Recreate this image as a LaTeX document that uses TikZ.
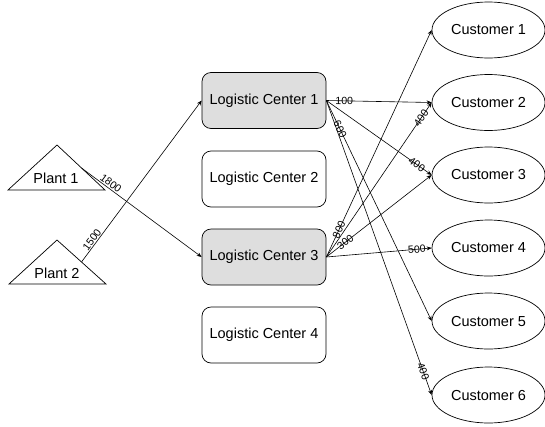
\documentclass[tikz,border=0pt]{standalone}
\usepackage{fontspec}
\setmainfont{Liberation Sans}
\usetikzlibrary{arrows.meta,shapes.geometric}
\definecolor{lcgray}{RGB}{222,222,222}
\begin{document}
\begin{tikzpicture}[x=1pt,y=-1pt,
  txt/.style={font=\fontsize{14.5}{17}\selectfont},
  lc/.style={draw, txt, rounded corners=9pt, minimum width=124pt, minimum height=56pt, inner sep=0pt, line width=0.7pt},
  lcfill/.style={lc, fill=lcgray},
  cust/.style={draw, txt, ellipse, minimum width=113pt, minimum height=56pt, inner sep=0pt, line width=0.7pt},
  flow/.style={draw, line width=0.6pt, -{Stealth[length=5pt,width=4pt]}},
  lbl/.style={font=\fontsize{10.5}{12}\selectfont, sloped, inner sep=1pt}]
\useasboundingbox (0,0) rectangle (545,426);

% plants
\draw[line width=0.7pt] (57,145) -- (105,190) -- (8,190) -- cycle;
\node[txt] (plant1) at (56,178) {Plant 1};
\coordinate (p1out) at (81.5,168);
\draw[line width=0.7pt] (57,240) -- (106,284) -- (9,284) -- cycle;
\node[txt] (plant2) at (57,273) {Plant 2};
\coordinate (p2out) at (81.5,262);

% logistic centers
\node[lcfill] (lc1) at (264,100.5) {Logistic Center 1};
\node[lc] (lc2) at (264,179) {Logistic Center 2};
\node[lcfill] (lc3) at (264,257) {Logistic Center 3};
\node[lc] (lc4) at (264,335) {Logistic Center 4};

% customers
\node[cust] (c1) at (488.5,30) {Customer 1};
\node[cust] (c2) at (488.5,102.5) {Customer 2};
\node[cust] (c3) at (488.5,175) {Customer 3};
\node[cust] (c4) at (488.5,248) {Customer 4};
\node[cust] (c5) at (488.5,321) {Customer 5};
\node[cust] (c6) at (488.5,395) {Customer 6};

% plant flows
\draw[flow] (p1out) -- node[lbl, above, pos=0.22] {1800} (lc3.west);
\draw[flow] (p2out) -- node[lbl, above, pos=0.12] {1500} (lc1.west);

% LC1 flows
\draw[flow] (lc1.east) -- node[lbl, pos=0.17] {100} (c2.west);
\draw[flow] (lc1.east) -- node[lbl, pos=0.86] {400} (c3.west);
\draw[flow] (lc1.east) -- node[lbl, pos=0.13] {600} (c5.west);
\draw[flow] (lc1.east) -- node[lbl, pos=0.92] {400} (c6.west);

% LC3 flows
\draw[flow] (lc3.east) -- node[lbl, pos=0.12] {800} (c1.west);
\draw[flow] (lc3.east) -- node[lbl, pos=0.9] {400} (c2.west);
\draw[flow] (lc3.east) -- node[lbl, pos=0.18] {300} (c3.west);
\draw[flow] (lc3.east) -- node[lbl, pos=0.86] {500} (c4.west);
\end{tikzpicture}
\end{document}
